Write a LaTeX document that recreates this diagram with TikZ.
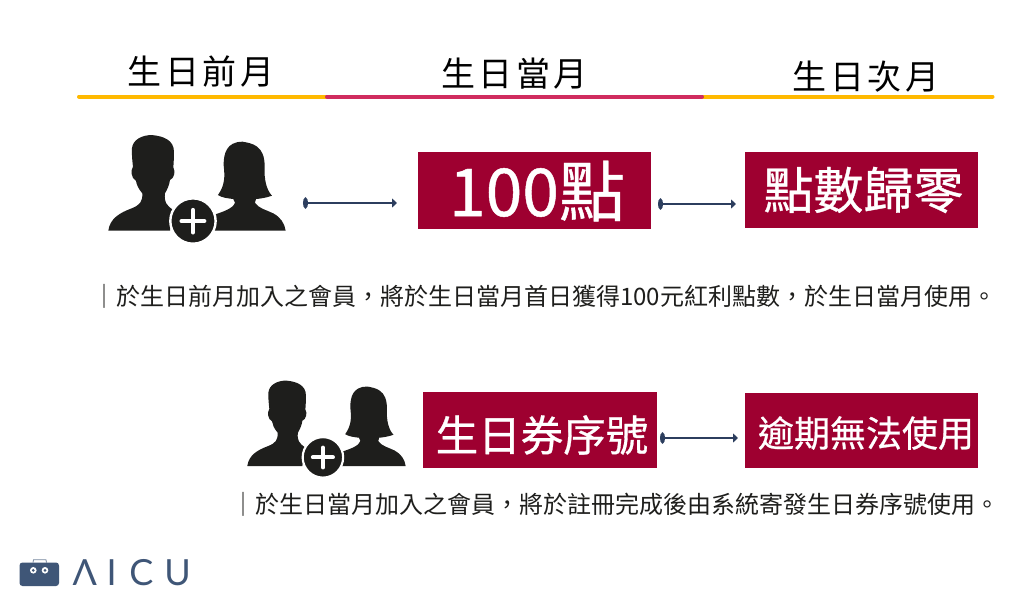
\documentclass[tikz,border=0pt]{standalone}
\usepackage{fontspec}
\usetikzlibrary{arrows.meta}
\newfontfamily\cjk{Noto Sans CJK TC}
\newfontfamily\cjkb[FakeBold=0.7]{Noto Sans CJK TC}
\newfontfamily\logofont{Lato}
\definecolor{boxred}{HTML}{9E0030}
\definecolor{amber}{HTML}{FFB900}
\definecolor{rose}{HTML}{D02C5F}
\definecolor{navy}{HTML}{2C3E5E}
\definecolor{ink}{HTML}{1E1E1C}
\definecolor{logoblue}{HTML}{3F5677}
\tikzset{
  redbox/.style={fill=boxred,draw=none,text=white,inner sep=0pt,anchor=north west,align=center},
  boxtext/.style={text=white,inner sep=0pt},
  flow/.style={navy,line width=1.6pt,{Ellipse[length=5pt,width=11pt]}-{Triangle[length=5pt,width=9pt]}},
  rule/.style={line width=4pt,line cap=round},
  head/.style={font=\cjk\fontsize{34}{34}\selectfont,inner sep=0pt,text=black},
  note/.style={font=\cjk\fontsize{24}{24}\selectfont,inner sep=0pt,anchor=west,text=ink},
  logo/.style={font=\logofont\fontsize{36}{36}\selectfont,text=logoblue,inner sep=0pt}
}
\newcommand{\people}[3]{%
 \begin{scope}[shift={(#1,#2)},scale=#3/3,shift={(-145,-602)}]
  \fill[ink] (145,602) .. controls (150,565) and (180,548) .. (215,535)
    .. controls (240,525) and (248,515) .. (247,490) .. controls (235,475) and (230,465) .. (228,452)
    .. controls (213,445) and (212,420) .. (219,410) .. controls (217,390) and (215,375) .. (216,355)
    .. controls (218,330) and (245,315) .. (275,315)
    .. controls (310,318) and (342,330) .. (342,365) .. controls (342,385) and (341,400) .. (340,412)
    .. controls (348,425) and (342,445) .. (330,450)
    .. controls (328,465) and (322,478) .. (315,490) .. controls (312,515) and (318,525) .. (340,540)
    -- (330,602) -- cycle;
  \fill[ink] (450,602) -- (460,555) .. controls (490,545) and (520,535) .. (525,518)
    -- (520,507) .. controls (505,505) and (485,503) .. (474,495)
    .. controls (495,465) and (495,440) .. (491,405) .. controls (491,370) and (500,335) .. (548,335)
    .. controls (575,340) and (615,345) .. (614,410) .. controls (612,450) and (620,480) .. (636,497)
    .. controls (620,503) and (600,506) .. (588,507) -- (585,518)
    .. controls (595,535) and (620,540) .. (640,550) .. controls (662,562) and (674,580) .. (677,602) -- cycle;
  \fill[ink,draw=white,line width=#3*2.4pt] (399,573) circle (68);
  \draw[white,line width=#3*4.3pt,line cap=round] (365,573) -- (433,573) (399,540) -- (399,607);
 \end{scope}}
\begin{document}
\begin{tikzpicture}[x=1pt,y=-1pt]
\useasboundingbox (0,0) rectangle (1024,600);
\fill[white] (0,0) rectangle (1024,600);
% headings
\node[head] (h1) at (201,72) {生\hspace{3.5pt}日\hspace{3.5pt}前\hspace{3.5pt}月};
\node[head] (h2) at (514.5,74) {生\hspace{3.5pt}日\hspace{3.5pt}當\hspace{3.5pt}月};
\node[head] (h3) at (866,77) {生\hspace{3.5pt}日\hspace{3.5pt}次\hspace{3.5pt}月};
% rule
\coordinate (r0) at (79,96.5); \coordinate (r1) at (327,96.5);
\coordinate (r2) at (702,96.5); \coordinate (r3) at (992.5,96.5);
\draw[rule,amber] (r0) -- (r1);
\draw[rule,amber] (r2) -- (r3);
\draw[rule,rose] (r1) -- (r2);
% icons
\people{108.3}{230.7}{1}
\people{247.3}{466}{0.893}
% boxes
\node[redbox,minimum width=233pt,minimum height=77pt] (b1) at (418,152) {};
\node[boxtext,font=\cjkb\fontsize{66}{66}\selectfont] (t1) at (537,191) {100點};
\node[redbox,minimum width=233pt,minimum height=76pt] (b2) at (745,152) {};
\node[boxtext,font=\cjkb\fontsize{50}{50}\selectfont] (t2) at (863.5,190) {點數歸零};
\node[redbox,minimum width=234pt,minimum height=76pt] (b3) at (423,392) {};
\node[boxtext,font=\cjkb\fontsize{42.5}{42.5}\selectfont] (t3) at (542,435) {生日券序號};
\node[redbox,minimum width=233pt,minimum height=75pt] (b4) at (745,393) {};
\node[boxtext,font=\cjkb\fontsize{36}{36}\selectfont] (t4) at (866,433) {逾期無法使用};
% arrows
\coordinate (a1s) at (303,203); \coordinate (a1e) at (397,203);
\coordinate (a2s) at (658,204); \coordinate (a2e) at (736,204);
\coordinate (a3s) at (660,438); \coordinate (a3e) at (738,438);
\draw[flow] (a1s) -- (a1e);
\draw[flow] (a2s) -- (a2e);
\draw[flow] (a3s) -- (a3e);
% notes
\node[note] (n1) at (92,296) {｜於生日前月加入之會員，將於生日當月首日獲得100元紅利點數，於生日當月使用。};
\node[note] (n2) at (231,504) {｜於生日當月加入之會員，將於註冊完成後由系統寄發生日券序號使用。};
% logo
\fill[logoblue,rounded corners=3pt] (19.5,562.5) rectangle (59,586);
\draw[logoblue,line width=0.8pt,opacity=.7] (33,562.5) -- (33.5,559.8) -- (46,559.8) -- (46.5,562.5);
\foreach \ex in {33.3,45}{\fill[white] (\ex,570.3) circle (3.3); \fill[logoblue] (\ex,570.3) circle (1.5);}
\node[logo] (l1) at (84.7,573) {Λ};
\node[logo] (l2) at (111.7,573) {I};
\node[logo] (l3) at (141.5,573) {C};
\node[logo] (l4) at (177.5,573) {U};
\end{tikzpicture}
\end{document}
